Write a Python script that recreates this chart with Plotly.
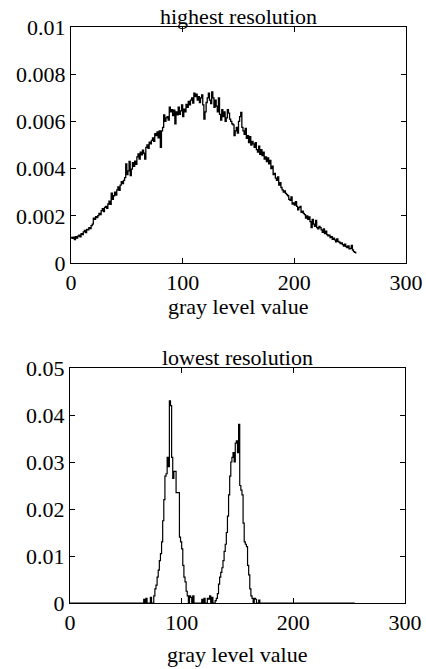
import plotly.graph_objects as go

# ---------------- data ----------------
gray_levels = list(range(256))

# highest resolution histogram, units of 1e-5
high_freq_e5 = [
    108, 104, 110, 99, 112, 105, 114, 118, 111, 124, 120, 132, 138, 129, 142, 140,
    150, 146, 158, 165, 190, 185, 196, 192, 201, 210, 205, 222, 230, 218, 236, 240,
    232, 250, 262, 248, 296, 270, 285, 300, 288, 310, 322, 308, 330, 345, 336, 350,
    362, 420, 375, 390, 430, 370, 398, 425, 410, 432, 418, 450, 462, 440, 470, 458,
    478, 465, 440, 490, 500, 486, 512, 505, 520, 530, 515, 548, 540, 556, 530, 560,
    490, 560, 575, 628, 600, 615, 620, 605, 660, 640, 650, 625, 648, 590, 640, 628,
    660, 630, 645, 670, 620, 652, 640, 672, 660, 685, 670, 690, 700, 678, 720, 705,
    715, 690, 705, 680, 700, 712, 670, 610, 640, 680, 700, 720, 690, 675, 725, 700,
    660, 690, 665, 640, 700, 630, 605, 650, 620, 640, 600, 615, 650, 635, 610, 600,
    590, 585, 540, 560, 575, 550, 600, 620, 638, 575, 560, 545, 570, 528, 540, 510,
    535, 500, 515, 505, 490, 510, 480, 470, 495, 460, 480, 455, 470, 440, 450, 430,
    445, 420, 435, 400, 410, 375, 380, 360, 350, 365, 330, 340, 320, 310, 300, 305,
    295, 290, 285, 270, 265, 280, 250, 255, 245, 260, 240, 225, 235, 240, 215, 220,
    210, 205, 190, 200, 185, 195, 175, 150, 185, 165, 155, 180, 150, 145, 155, 150,
    140, 130, 145, 125, 135, 120, 115, 118, 108, 112, 100, 105, 98, 90, 102, 92,
    88, 82, 85, 78, 72, 80, 70, 65, 72, 60, 62, 75, 55, 48, 45, 40,
]

# lowest resolution histogram, units of 1e-4
low_freq_e4 = (
    [0] * 64
    + [0, 0, 8, 0, 10, 0, 0, 0, 12, 0, 0, 15, 30, 38, 55, 70,          # 64-79
       90, 105, 130, 175, 220, 270, 275, 310, 290, 430, 420, 310, 265, 280, 280, 235,  # 80-95
       235, 235, 140, 130, 115, 80, 55, 45, 25, 15, 0, 15, 12, 0, 15, 0,  # 96-111
       0, 0, 0, 0, 0, 0, 8, 0, 10, 0, 0, 10, 8, 15, 0, 12,               # 112-127
       0, 0, 5, 10, 20, 40, 55, 65, 75, 90, 110, 125, 150, 185, 230, 270,  # 128-143
       300, 310, 320, 300, 340, 345, 320, 380, 250, 240, 230, 170, 130, 125, 120, 80,  # 144-159
       60, 30, 15, 10, 0, 10, 8, 0, 0, 6, 0, 0, 0, 0, 0, 0]              # 160-175
    + [0] * 80
)

high_freq = [v * 1e-5 for v in high_freq_e5]
low_freq = [v * 1e-4 for v in low_freq_e4]

x_ticks = [0, 100, 200, 300]
high_y_ticks = [0, 0.002, 0.004, 0.006, 0.008, 0.01]
high_y_labels = ["0", "0.002", "0.004", "0.006", "0.008", "0.01"]
low_y_ticks = [0, 0.01, 0.02, 0.03, 0.04, 0.05]
low_y_labels = ["0", "0.01", "0.02", "0.03", "0.04", "0.05"]

titles = ["highest resolution", "lowest resolution"]
x_title = "gray level value"

# ---------------- figure ----------------
W, H = 426, 669
FONT = "Liberation Serif, Times New Roman, serif"
FS = 22

fig = go.Figure()
fig.add_trace(go.Scatter(x=gray_levels, y=high_freq, mode="lines",
                         line=dict(color="black", width=1.3, shape="hv"),
                         xaxis="x", yaxis="y", showlegend=False))
fig.add_trace(go.Scatter(x=gray_levels, y=low_freq, mode="lines",
                         line=dict(color="black", width=1.2, shape="hv"),
                         xaxis="x2", yaxis="y2", showlegend=False))

def px_x(p):
    return p / W

def px_y(p):
    return 1 - p / H

axis_common = dict(showgrid=False, zeroline=False, showline=True, linecolor="black",
                   linewidth=1, mirror="ticks", ticks="inside", ticklen=5,
                   tickcolor="black", automargin=False,
                   tickfont=dict(family=FONT, size=FS, color="black"))

top_l, top_r, top_t, top_b = 71, 406, 27, 263
bot_l, bot_r, bot_t, bot_b = 70, 405, 368, 603

fig.update_layout(
    width=W, height=H,
    margin=dict(l=0, r=0, t=0, b=0, autoexpand=False),
    paper_bgcolor="white", plot_bgcolor="white",
    font=dict(family=FONT, size=FS, color="black"),
    hovermode=False,
    xaxis=dict(domain=[px_x(top_l), px_x(top_r)], range=[0, 300],
               tickvals=x_ticks, ticktext=[str(t) for t in x_ticks],
               anchor="y", **axis_common),
    yaxis=dict(domain=[px_y(top_b), px_y(top_t)], range=[0, 0.01],
               tickvals=high_y_ticks, ticktext=high_y_labels,
               anchor="x", **axis_common),
    xaxis2=dict(domain=[px_x(bot_l), px_x(bot_r)], range=[0, 300],
                tickvals=x_ticks, ticktext=[str(t) for t in x_ticks],
                anchor="y2", **axis_common),
    yaxis2=dict(domain=[px_y(bot_b), px_y(bot_t)], range=[0, 0.05],
                tickvals=low_y_ticks, ticktext=low_y_labels,
                anchor="x2", **axis_common),
)

ann = [
    (titles[0], (top_l + top_r) / 2, 16),
    (x_title, (top_l + top_r) / 2, 306),
    (titles[1], (bot_l + bot_r) / 2, 358),
    (x_title, (bot_l + bot_r) / 2, 654),
]
for text, xp, yp in ann:
    fig.add_annotation(text=text, x=px_x(xp), y=px_y(yp), xref="paper", yref="paper",
                       xanchor="center", yanchor="middle", showarrow=False,
                       font=dict(family=FONT, size=FS, color="black"))

fig.write_html(
    "out.html",
    config={"displayModeBar": False},
    post_script="document.body.style.margin='0';document.body.style.overflow='hidden';",
)
